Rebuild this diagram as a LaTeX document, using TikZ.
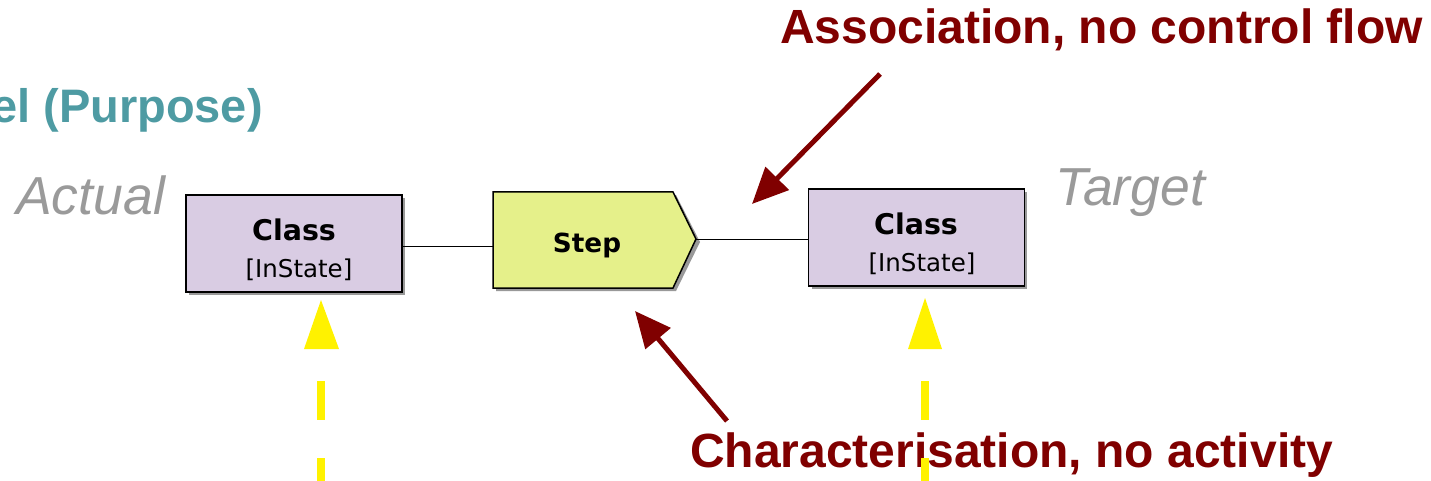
\documentclass[tikz,border=0pt]{standalone}
\usepackage{fontspec}
\setmainfont{Liberation Sans}
\newfontfamily\dvs{DejaVu Sans}
\usetikzlibrary{arrows.meta}
\definecolor{lav}{HTML}{D9CCE3}
\definecolor{stepc}{HTML}{E5F08A}
\definecolor{dred}{HTML}{800000}
\definecolor{teal2}{HTML}{4E9BA3}
\definecolor{greyt}{HTML}{9A9A9A}
\tikzset{
  classbox/.style={draw=black, line width=1.5pt, fill=lav, minimum width=216pt, minimum height=97pt, inner sep=0pt},
  classname/.style={font=\dvs\bfseries\fontsize{28.5}{32}\selectfont, inner sep=0pt},
  classstate/.style={font=\dvs\fontsize{24.5}{28}\selectfont, inner sep=0pt},
  redarrow/.style={draw=dred, line width=5pt, -{Triangle[length=36pt,width=32pt]}},
  ydash/.style={draw=yellow, line width=8pt},
  yhead/.style={fill=yellow},
  redlabel/.style={text=dred, font=\bfseries\fontsize{48}{54}\selectfont, inner sep=0pt},
  greylabel/.style={text=greyt, font=\itshape\fontsize{53.5}{60}\selectfont, inner sep=0pt}
}
\begin{document}
\begin{tikzpicture}[x=1pt,y=-1pt]
\useasboundingbox (0,0) rectangle (1431,481);
% shadows
\fill[gray!80] (189,198) rectangle (405,295);
\fill[gray!80] (812,192) rectangle (1027,289);
\fill[gray!80] (496,195) -- (676,195) -- (700,242) -- (676,291) -- (496,291) -- cycle;
% class boxes
\node[classbox] (c1) at (294,243.5) {};
\node[classname] (c1t) at (294,230) {Class};
\node[classstate] (c1s) at (299,270) {[InState]};
\node[classbox] (c2) at (916.5,237.5) {};
\node[classname] (c2t) at (916,224) {Class};
\node[classstate] (c2s) at (922,264) {[InState]};
% step
\draw[line width=1.5pt, fill=stepc] (493,192) -- (673,192) -- (696,239) coordinate (sp) -- (673,288) -- (493,288) -- cycle;
\coordinate (sl) at (493,246);
\node[font=\dvs\bfseries\fontsize{26.3}{30}\selectfont, inner sep=0pt] (step) at (587,245) {Step};
% connectors
\draw[line width=1pt] (c1.east |- sl) -- (sl);
\draw[line width=1pt] (sp) -- (c2.west |- sp);
% labels
\node[greylabel, anchor=west] (act) at (16,195) {Actual};
\node[greylabel, anchor=west] (tgt) at (1055,193) {Target};
\node[text=teal2, font=\bfseries\fontsize{47}{52}\selectfont, inner sep=0pt, anchor=west] (purp) at (-9,110) {el (Purpose)};
\node[redlabel, anchor=west] (assoc) at (780,30) {Association, no control flow};
\node[redlabel, anchor=west] (char) at (690,455) {Characterisation, no activity};
% red arrows
\coordinate (a1s) at (880,74);
\coordinate (a1e) at (752,204);
\draw[redarrow] (a1s) -- (a1e);
\coordinate (a2s) at (727,421);
\coordinate (a2e) at (635,311);
\draw[redarrow] (a2s) -- (a2e);
% yellow arrows
\fill[yhead] (321,300) -- (339,349) -- (304,349) -- cycle;
\draw[ydash] (321,381) -- (321,420);
\draw[ydash] (321,458) -- (321,481);
\fill[yhead] (925,298) -- (942,349) -- (908,349) -- cycle;
\draw[ydash] (925,381) -- (925,420);
\draw[ydash] (925,458) -- (925,481);
\end{tikzpicture}
\end{document}
